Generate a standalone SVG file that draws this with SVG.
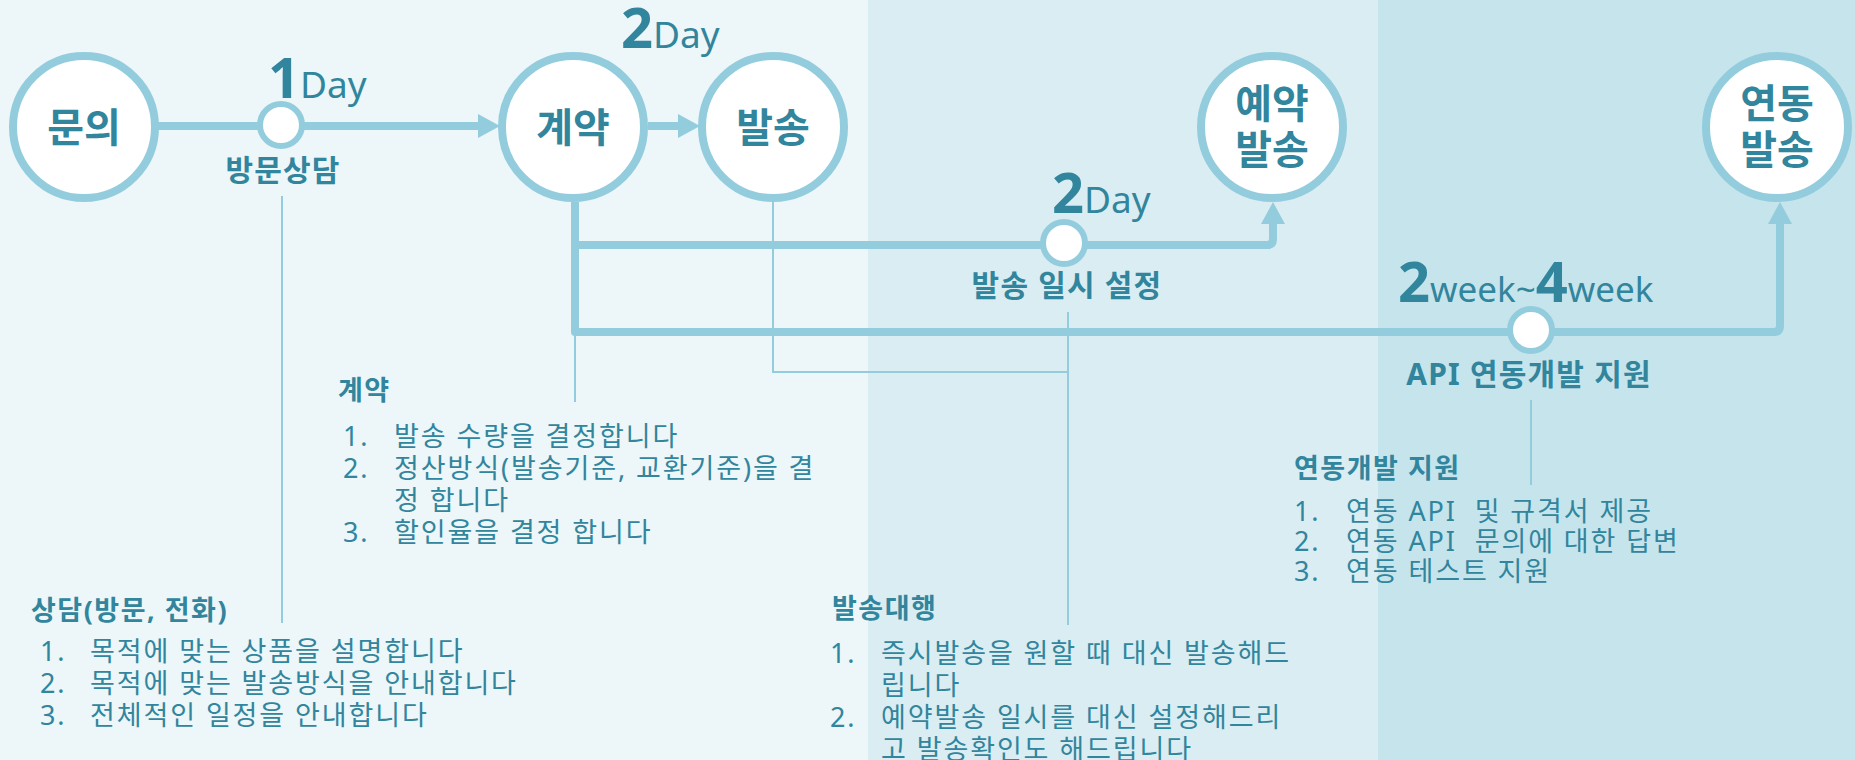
<svg xmlns="http://www.w3.org/2000/svg" width="1855" height="760" viewBox="0 0 1855 760">
  <style>
    .t { font-family: 'Noto Sans', 'Noto Sans CJK KR', sans-serif; fill: #31859C; }
    .node { fill: #FFFFFF; stroke: #93CDDD; stroke-width: 8; }
    .ms { fill: #FFFFFF; stroke: #93CDDD; stroke-width: 6; }
    .nt { font-size: 40px; font-weight: bold; text-anchor: middle; }
    .ml { font-size: 30px; font-weight: bold; text-anchor: middle; letter-spacing: 1.2px; }
    .big { font-size: 56px; font-weight: bold; }
    .day { font-size: 37px; }
    .wk { font-size: 35px; }
    .h { font-size: 27px; font-weight: bold; letter-spacing: 1.5px; }
    .li { font-size: 27px; letter-spacing: 1.9px; }
    .thick { fill: none; stroke: #93CDDD; stroke-width: 8; stroke-linejoin: round; }
    .thin { fill: none; stroke: #93CDDD; stroke-width: 2; }
  </style>
  <defs>
    <marker id="ah" markerUnits="userSpaceOnUse" markerWidth="24" markerHeight="24" refX="0" refY="12" orient="auto">
      <path d="M0,0 L22,12 L0,24 Z" fill="#93CDDD"/>
    </marker>
  </defs>

  <!-- background bands -->
  <rect x="0" y="0" width="868" height="760" fill="#EDF6F9"/>
  <rect x="868" y="0" width="510" height="760" fill="#DAEDF3"/>
  <rect x="1378" y="0" width="477" height="760" fill="#C6E4EC"/>

  <!-- connectors -->
  <g id="connectors">
    <path class="thick" d="M158,126 H478" marker-end="url(#ah)"/>
    <path class="thick" d="M648,126 H678" marker-end="url(#ah)"/>
    <path class="thick" d="M575,202 V332 H1774 Q1780,332 1780,326 V224" marker-end="url(#ah)"/>
    <path class="thick" d="M575,245 H1267 Q1273,245 1273,239 V224" marker-end="url(#ah)"/>
    <path class="thin" d="M282,196 V623"/>
    <path class="thin" d="M575,332 V402"/>
    <path class="thin" d="M773,202 V372 H1068"/>
    <path class="thin" d="M1068,312 V625"/>
    <path class="thin" d="M1531,400 V485"/>
  </g>

  <!-- main nodes -->
  <g id="node-munui">
    <circle class="node" cx="84" cy="127" r="71"/>
    <text class="t nt" x="84" y="142">문의</text>
  </g>
  <g id="node-gyeyak">
    <circle class="node" cx="573" cy="127" r="71"/>
    <text class="t nt" x="573" y="142">계약</text>
  </g>
  <g id="node-balsong">
    <circle class="node" cx="773" cy="127" r="71"/>
    <text class="t nt" x="773" y="142">발송</text>
  </g>
  <g id="node-yeyak">
    <circle class="node" cx="1272" cy="127" r="71"/>
    <text class="t nt" x="1272" y="118">예약</text>
    <text class="t nt" x="1272" y="164">발송</text>
  </g>
  <g id="node-yeondong">
    <circle class="node" cx="1777" cy="127" r="71"/>
    <text class="t nt" x="1777" y="118">연동</text>
    <text class="t nt" x="1777" y="164">발송</text>
  </g>

  <!-- milestones -->
  <g id="ms-visit">
    <circle class="ms" cx="281" cy="125" r="21"/>
    <text class="t" x="268" y="98"><tspan class="big">1</tspan><tspan class="day">Day</tspan></text>
    <text class="t ml" x="283" y="181">방문상담</text>
  </g>
  <g id="ms-send-days">
    <text class="t" x="621" y="48"><tspan class="big">2</tspan><tspan class="day">Day</tspan></text>
  </g>
  <g id="ms-schedule">
    <circle class="ms" cx="1064" cy="243" r="21"/>
    <text class="t" x="1052" y="213"><tspan class="big">2</tspan><tspan class="day">Day</tspan></text>
    <text class="t ml" x="1067" y="296">발송 일시 설정</text>
  </g>
  <g id="ms-api">
    <circle class="ms" cx="1531" cy="330" r="21"/>
    <text class="t" x="1398" y="302"><tspan class="big">2</tspan><tspan class="wk">week~</tspan><tspan class="big">4</tspan><tspan class="wk">week</tspan></text>
    <text class="t ml" x="1529" y="385">API 연동개발 지원</text>
  </g>

  <!-- description blocks -->
  <g id="desc-consult">
    <text class="t h" x="31" y="620">상담(방문, 전화)</text>
    <text class="t li" x="40" y="661">1.</text>
    <text class="t li" x="90" y="661">목적에 맞는 상품을 설명합니다</text>
    <text class="t li" x="40" y="693">2.</text>
    <text class="t li" x="90" y="693">목적에 맞는 발송방식을 안내합니다</text>
    <text class="t li" x="40" y="725">3.</text>
    <text class="t li" x="90" y="725">전체적인 일정을 안내합니다</text>
  </g>
  <g id="desc-contract">
    <text class="t h" x="338" y="400">계약</text>
    <text class="t li" x="343" y="446">1.</text>
    <text class="t li" x="394" y="446">발송 수량을 결정합니다</text>
    <text class="t li" x="343" y="478">2.</text>
    <text class="t li" x="394" y="478">정산방식(발송기준, 교환기준)을 결</text>
    <text class="t li" x="394" y="510">정 합니다</text>
    <text class="t li" x="343" y="542">3.</text>
    <text class="t li" x="394" y="542">할인율을 결정 합니다</text>
  </g>
  <g id="desc-agency">
    <text class="t h" x="832" y="618">발송대행</text>
    <text class="t li" x="830" y="663">1.</text>
    <text class="t li" x="881" y="663">즉시발송을 원할 때 대신 발송해드</text>
    <text class="t li" x="881" y="695">립니다</text>
    <text class="t li" x="830" y="727">2.</text>
    <text class="t li" x="881" y="727">예약발송 일시를 대신 설정해드리</text>
    <text class="t li" x="881" y="759">고 발송확인도 해드립니다</text>
  </g>
  <g id="desc-api">
    <text class="t h" x="1294" y="478">연동개발 지원</text>
    <text class="t li" x="1294" y="521">1.</text>
    <text class="t li" x="1346" y="521">연동 API&#160; 및 규격서 제공</text>
    <text class="t li" x="1294" y="551">2.</text>
    <text class="t li" x="1346" y="551">연동 API&#160; 문의에 대한 답변</text>
    <text class="t li" x="1294" y="581">3.</text>
    <text class="t li" x="1346" y="581">연동 테스트 지원</text>
  </g>
</svg>
